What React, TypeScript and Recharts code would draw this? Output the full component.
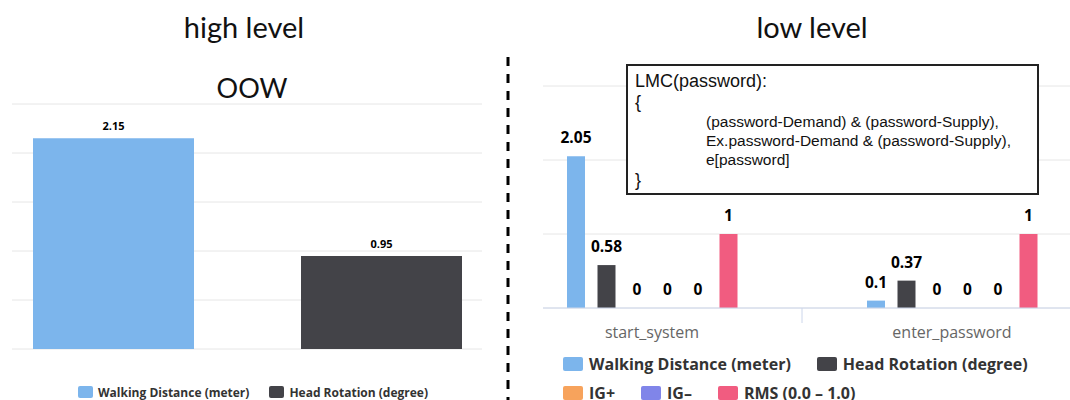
import { BarChart, Bar, XAxis, YAxis, CartesianGrid, Legend, LabelList } from 'recharts';

// high level (left) chart
const highCategories = ['OOW'];
const highWalking = [2.15];
const highHead = [0.95];
const highTicks = [0, 0.5, 1, 1.5, 2, 2.5];

// low level (right) chart
const lowCategories = ['start_system', 'enter_password'];
const lowWalking = [2.05, 0.1];
const lowHead = [0.58, 0.37];
const lowOther = [0, 0];
const lowIgPlus = [0, 0];
const lowIgMinus = [0, 0];
const lowRms = [1, 1];
const lowTicks = [0, 1, 2, 3];

const seriesNames = ['Walking Distance (meter)', 'Head Rotation (degree)', 'IG+', 'IG–', 'RMS (0.0 – 1.0)'];

const annotationTitle = 'LMC(password):';
const annotationLines = [
  '(password-Demand) & (password-Supply),',
  'Ex.password-Demand & (password-Supply),',
  'e[password]',
];

const highData = highCategories.map((c, i) => ({ name: c, walking: highWalking[i], head: highHead[i] }));
const lowData = lowCategories.map((c, i) => ({
  name: c,
  walking: lowWalking[i],
  head: lowHead[i],
  other: lowOther[i],
  igPlus: lowIgPlus[i],
  igMinus: lowIgMinus[i],
  rms: lowRms[i],
}));

const FONT = '"Open Sans", Arial, sans-serif';
const BLUE = '#7cb5ec';
const DARK = '#434348';

const LOW_WIDTH = 600;
const HALF_BAND = LOW_WIDTH / lowCategories.length / 2;

function makeLegend(opts: { boxW: number; boxH: number; textGap: number; gap: number; fontSize: number; rowH: number; rowGap: number }) {
  return (props: any) => {
    const items = (props.payload || [])
      .filter((p: any) => p.type !== 'none')
      .sort((a: any, b: any) => seriesNames.indexOf(a.value) - seriesNames.indexOf(b.value));
    return (
      <div style={{ display: 'flex', flexWrap: 'wrap', columnGap: opts.gap, rowGap: opts.rowGap, fontFamily: FONT }}>
        {items.map((p: any) => (
          <div key={p.value} style={{ display: 'flex', alignItems: 'center', height: opts.rowH }}>
            <svg width={opts.boxW} height={opts.boxH} style={{ marginRight: opts.textGap }}>
              <rect width={opts.boxW} height={opts.boxH} rx={2} fill={p.color} />
            </svg>
            <span style={{ fontSize: opts.fontSize, fontWeight: 700, color: '#333', whiteSpace: 'nowrap' }}>{p.value}</span>
          </div>
        ))}
      </div>
    );
  };
}

const highLegend = makeLegend({ boxW: 15, boxH: 12, textGap: 5, gap: 20, fontSize: 12, rowH: 16, rowGap: 0 });
const lowLegend = makeLegend({ boxW: 20, boxH: 14, textGap: 6, gap: 26, fontSize: 16, rowH: 22, rowGap: 7 });

function CategoryTick(props: any) {
  const { x, y, payload } = props;
  const axisY = y - 24;
  return (
    <g>
      <line x1={x + HALF_BAND} x2={x + HALF_BAND} y1={axisY} y2={axisY + 15} stroke="#ccd6eb" />
      <text x={x} y={y} textAnchor="middle" dominantBaseline="central" fill="#666" fontSize={16} fontFamily={FONT}>
        {payload.value}
      </text>
    </g>
  );
}

const labelStyle = (size: number) => ({ fontSize: size, fontWeight: 700, fill: '#000', fontFamily: FONT });

export default function App() {
  return (
    <div style={{ position: 'absolute', left: 0, top: 0, width: 1070, height: 400, background: '#fff', overflow: 'hidden' }}>
      <div style={{ position: 'absolute', left: 144, top: 12, width: 200, textAlign: 'center', fontFamily: 'Lato, sans-serif', fontSize: 29, lineHeight: '29px', color: '#111' }}>
        high level
      </div>
      <div style={{ position: 'absolute', left: 712, top: 12, width: 200, textAlign: 'center', fontFamily: 'Lato, sans-serif', fontSize: 29, lineHeight: '29px', color: '#111' }}>
        low level
      </div>
      <div style={{ position: 'absolute', left: 152, top: 74, width: 200, textAlign: 'center', fontFamily: 'Lato, sans-serif', fontSize: 27, lineHeight: '27px', color: '#111' }}>
        {highCategories[0]}
      </div>

      <svg style={{ position: 'absolute', left: 500, top: 55 }} width={16} height={345}>
        <line x1={8} x2={8} y1={2} y2={345} stroke="#000" strokeWidth={3} strokeDasharray="9 8" />
      </svg>

      <div style={{ position: 'absolute', left: 0, top: 60 }}>
        <BarChart width={490} height={340} data={highData} margin={{ top: 44, right: 8, bottom: 51, left: 12 }} barSize={161} barGap={107}>
          <CartesianGrid vertical={false} stroke="#e6e6e6" />
          <XAxis dataKey="name" hide />
          <YAxis hide domain={[0, 2.5]} ticks={highTicks} />
          <Legend verticalAlign="middle" align="center" content={highLegend} wrapperStyle={{ top: 324, left: 78, width: 420 }} />
          <Bar dataKey="walking" name={seriesNames[0]} fill={BLUE} isAnimationActive={false}>
            <LabelList dataKey="walking" position="top" offset={8} style={labelStyle(11)} />
          </Bar>
          <Bar dataKey="head" name={seriesNames[1]} fill={DARK} isAnimationActive={false}>
            <LabelList dataKey="head" position="top" offset={8} style={labelStyle(11)} />
          </Bar>
        </BarChart>
      </div>

      <div style={{ position: 'absolute', left: 543, top: 60, width: 527, height: 340, overflow: 'hidden' }}>
        <div style={{ position: 'absolute', left: -41, top: 0 }}>
          <BarChart width={LOW_WIDTH} height={340} data={lowData} margin={{ top: 26, right: 0, bottom: 62, left: 0 }} barSize={18} barGap={12.5}>
            <CartesianGrid vertical={false} stroke="#e6e6e6" />
            <XAxis dataKey="name" height={30} axisLine={{ stroke: '#ccd6eb' }} tickLine={false} tickSize={0} tickMargin={24} tick={<CategoryTick />} interval={0} />
            <YAxis hide domain={[0, 3]} ticks={lowTicks} />
            <Legend verticalAlign="middle" align="center" content={lowLegend} wrapperStyle={{ top: 293, left: 61, width: 480 }} />
            <Bar dataKey="walking" name={seriesNames[0]} fill={BLUE} minPointSize={0.01} isAnimationActive={false}>
              <LabelList dataKey="walking" position="top" offset={13} style={labelStyle(15.5)} />
            </Bar>
            <Bar dataKey="head" name={seriesNames[1]} fill={DARK} minPointSize={0.01} isAnimationActive={false}>
              <LabelList dataKey="head" position="top" offset={13} style={labelStyle(15.5)} />
            </Bar>
            <Bar dataKey="other" name="other" legendType="none" fill="#90ed7d" minPointSize={0.01} isAnimationActive={false}>
              <LabelList dataKey="other" position="top" offset={13} style={labelStyle(15.5)} />
            </Bar>
            <Bar dataKey="igPlus" name={seriesNames[2]} fill="#f7a35c" minPointSize={0.01} isAnimationActive={false}>
              <LabelList dataKey="igPlus" position="top" offset={13} style={labelStyle(15.5)} />
            </Bar>
            <Bar dataKey="igMinus" name={seriesNames[3]} fill="#8085e9" minPointSize={0.01} isAnimationActive={false}>
              <LabelList dataKey="igMinus" position="top" offset={13} style={labelStyle(15.5)} />
            </Bar>
            <Bar dataKey="rms" name={seriesNames[4]} fill="#f15c80" minPointSize={0.01} isAnimationActive={false}>
              <LabelList dataKey="rms" position="top" offset={13} style={labelStyle(15.5)} />
            </Bar>
          </BarChart>
        </div>
      </div>

      <div
        style={{
          position: 'absolute',
          left: 626,
          top: 64,
          width: 413,
          height: 131,
          border: '2px solid #222',
          background: '#fff',
          fontFamily: '"Liberation Sans", Arial, sans-serif',
          fontSize: 15.5,
          lineHeight: '19px',
          color: '#111',
          padding: '4px 0 0 7px',
          boxSizing: 'border-box',
        }}
      >
        <div style={{ fontSize: 18, lineHeight: '22px' }}>{annotationTitle}</div>
        <div style={{ fontSize: 18, lineHeight: '20px' }}>{'{'}</div>
        {annotationLines.map((l) => (
          <div key={l} style={{ paddingLeft: 71 }}>{l}</div>
        ))}
        <div style={{ fontSize: 18, lineHeight: '22px' }}>{'}'}</div>
      </div>
    </div>
  );
}
